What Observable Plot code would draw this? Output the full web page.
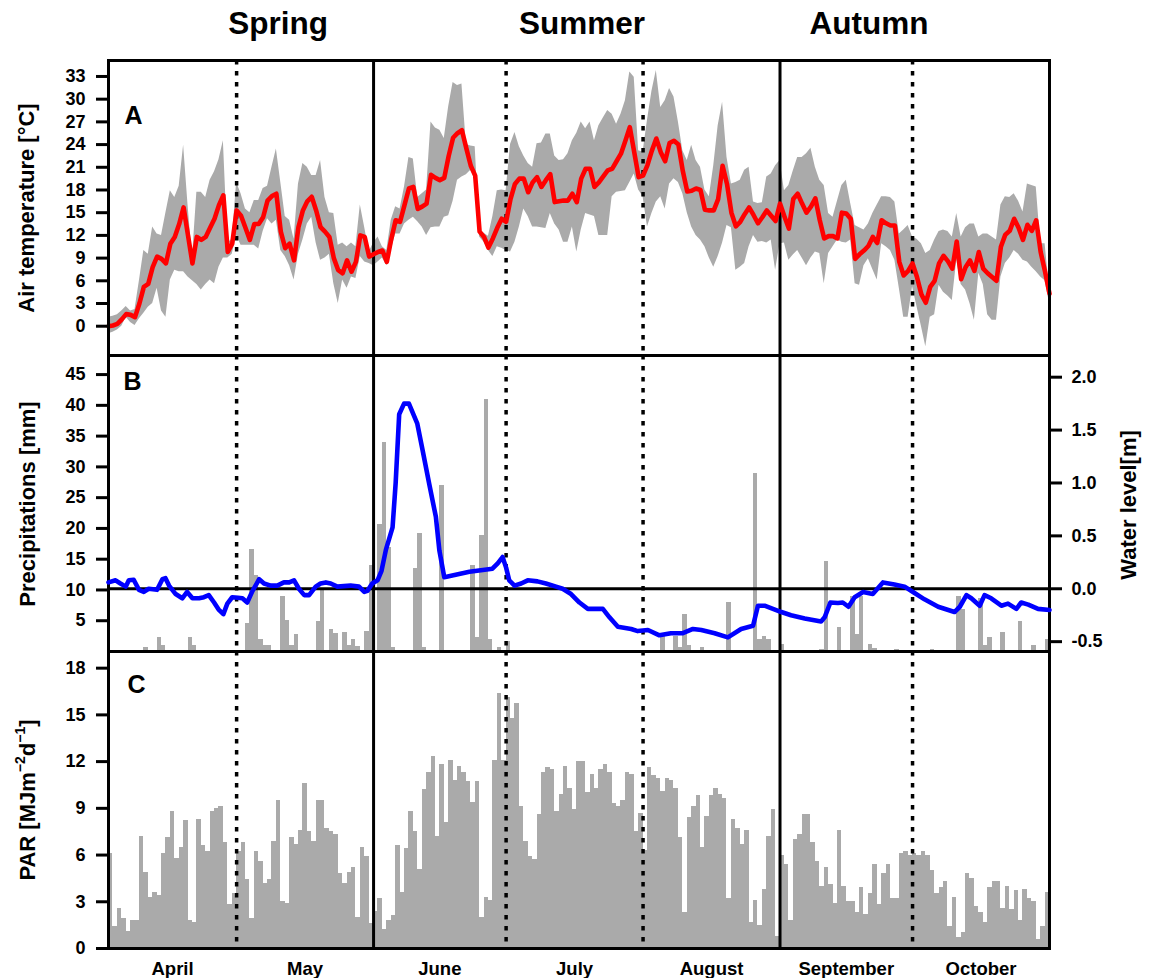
<!DOCTYPE html>
<html><head><meta charset="utf-8">
<script src="https://cdn.jsdelivr.net/npm/d3@7"></script>
<script src="https://cdn.jsdelivr.net/npm/@observablehq/plot@0.6"></script>
<style>
body{margin:0;background:#fff;}
#chart{position:relative;width:1154px;height:978px;font-family:"Liberation Sans",Arial,sans-serif;font-weight:bold;color:#000;overflow:hidden;}
#chart svg{position:absolute;left:0;top:0;}
.season{position:absolute;top:8px;font-size:31.5px;line-height:31.5px;transform:translateX(-50%);white-space:nowrap;}
.ylab{position:absolute;font-size:22px;line-height:22px;white-space:nowrap;transform:translate(-50%,-50%) rotate(-90deg);}
.ylab sup{font-size:14px;line-height:0;position:relative;top:-2px;vertical-align:super;}
</style></head><body><div id="chart"></div>
<script>
// ---------- DATA ----------
const seasonNames = ["Spring", "Summer", "Autumn"];
const monthNames = ["April", "May", "June", "July", "August", "September", "October"];
const monthEdges = [0, 29, 60, 90, 121, 152, 182, 213]; // day index of month starts
const seasonDividers = [60, 152];
const monthDividers = [29, 90, 121, 182];

const tempTicks = [0, 3, 6, 9, 12, 15, 18, 21, 24, 27, 30, 33];
const precipTicks = [5, 10, 15, 20, 25, 30, 35, 40, 45];
const waterTicks = [-0.5, 0.0, 0.5, 1.0, 1.5, 2.0];
const parTicks = [0, 3, 6, 9, 12, 15, 18];

// daily air temperature (°C): mean, min, max
const tempMean = [0.0,0.1,0.3,0.9,1.6,1.5,1.2,3.0,5.2,5.6,
 7.8,9.2,8.9,8.3,10.9,11.8,13.5,15.7,12.0,8.3,
 11.8,11.4,11.8,13.0,14.2,16.0,17.3,9.8,10.9,15.3,
 14.6,13.0,11.4,13.5,13.5,14.4,16.6,17.2,17.5,12.5,
 10.3,10.9,8.7,13.1,15.3,16.5,17.1,15.3,13.1,12.5,
 11.8,9.0,7.4,7.0,8.7,7.2,8.5,12.0,11.8,9.2,
 9.5,9.8,10.0,8.5,11.5,14.0,13.8,16.0,18.2,18.4,
 15.5,15.8,16.2,20.0,19.6,19.3,19.6,22.5,24.9,25.5,
 25.9,23.5,21.2,19.9,12.5,11.8,10.4,11.6,13.0,14.2,
 13.8,16.8,18.8,19.5,19.5,17.7,19.0,19.7,18.4,19.3,
 20.1,16.4,16.5,16.6,16.6,17.5,16.4,19.5,20.8,20.8,
 18.4,19.0,19.8,20.6,20.8,21.8,22.8,24.5,26.3,23.0,
 19.7,19.9,21.3,23.2,24.8,23.0,21.8,24.2,24.5,24.0,
 20.5,17.8,17.9,18.2,18.0,15.4,15.3,15.3,16.8,21.2,
 18.8,15.0,13.2,13.8,14.8,15.7,14.7,13.6,14.4,15.3,
 14.6,13.9,16.2,14.5,12.9,16.8,17.5,16.2,15.0,15.8,
 16.9,14.0,11.6,11.9,11.9,11.6,15.0,14.9,14.2,8.9,
 9.5,10.0,10.6,11.8,11.0,14.0,13.6,13.3,13.3,8.5,
 6.7,7.3,8.3,6.5,4.2,3.1,5.2,6.0,8.3,9.3,
 8.6,7.6,11.2,6.2,7.8,8.7,7.3,9.8,7.6,7.0,
 6.5,6.0,10.5,12.1,12.6,14.2,13.0,11.4,13.4,12.6,
 14.0,9.8,7.2,4.3];
const tempMax = [1.2,1.3,1.5,2.0,2.6,2.0,2.2,6.0,10.0,9.5,
 13.1,12.2,12.0,15.0,17.9,17.0,18.5,23.9,16.0,9.0,
 17.7,17.7,17.0,19.3,20.4,22.0,24.5,11.0,11.5,19.0,
 17.5,15.5,15.0,16.6,16.6,18.2,18.5,21.0,23.4,19.0,
 14.5,14.0,11.5,18.8,21.5,21.0,19.9,19.9,21.9,17.0,
 15.0,14.9,10.7,11.0,10.5,11.0,10.5,16.0,13.0,9.8,
 11.0,11.8,10.5,10.0,14.0,15.8,15.5,18.4,22.3,22.1,
 17.0,17.5,18.0,27.0,26.2,25.9,24.8,29.0,32.2,31.8,
 32.0,24.0,23.8,23.7,12.7,12.3,11.9,14.5,17.9,18.0,
 17.9,24.0,25.6,23.7,22.5,21.5,21.0,24.1,24.2,25.4,
 25.4,22.5,21.9,22.0,22.8,24.5,25.5,27.0,26.1,27.0,
 24.5,26.5,27.5,28.5,28.0,26.7,28.0,29.8,33.6,32.9,
 23.2,23.0,27.2,31.0,33.8,28.9,29.8,31.4,30.3,27.0,
 23.2,21.9,23.9,21.9,21.0,18.0,17.1,21.2,26.5,29.6,
 22.3,18.8,19.0,19.3,20.6,21.0,16.4,16.2,16.3,19.7,
 20.1,21.2,21.9,17.9,18.6,20.5,22.3,22.3,22.8,23.5,
 21.0,19.3,18.6,14.9,14.4,16.5,18.6,19.3,16.2,13.3,
 13.0,12.7,13.5,14.9,16.0,17.1,17.1,17.0,16.4,12.2,
 12.7,13.3,11.8,11.5,10.9,9.6,10.0,11.4,12.5,12.7,
 12.5,11.8,14.9,11.8,13.0,13.5,13.5,11.8,12.2,12.2,
 11.8,11.4,16.0,17.1,17.0,17.5,16.5,15.1,18.8,18.6,
 18.4,10.9,10.9,5.0];
const tempMin = [-1.0,-0.8,-0.5,0.0,1.2,0.5,0.1,1.0,1.7,2.5,
 3.0,5.0,2.0,1.2,6.1,7.4,7.2,7.2,6.5,6.0,
 5.5,4.8,5.5,6.1,5.6,7.8,9.0,9.0,9.5,12.0,
 10.7,10.7,10.7,10.7,10.2,12.5,14.2,13.5,14.0,10.0,
 9.2,8.0,6.1,9.5,11.4,13.5,14.4,11.0,8.7,9.0,
 9.5,5.6,3.0,6.1,5.0,6.5,6.3,9.2,8.5,8.3,
 8.0,8.5,9.0,8.0,10.0,12.2,12.2,13.5,14.0,14.4,
 13.8,13.1,12.0,13.0,13.1,13.1,14.4,14.6,16.5,19.3,
 19.7,20.0,20.6,19.5,11.8,11.1,10.0,9.2,10.5,10.3,
 10.0,9.8,11.1,13.1,15.5,14.5,13.1,13.1,13.0,12.9,
 14.9,13.5,12.7,11.1,11.1,13.1,9.8,12.7,14.9,14.7,
 14.5,12.0,12.0,12.0,17.1,17.7,17.8,17.9,19.0,20.1,
 18.0,17.1,13.1,14.9,16.4,17.1,15.5,18.8,19.5,19.0,
 17.5,15.0,13.1,12.0,11.4,10.5,9.0,7.8,9.2,11.0,
 13.3,13.0,7.4,7.8,8.3,10.5,12.0,11.1,11.2,11.0,
 11.4,7.4,10.9,11.0,8.7,9.4,10.0,9.0,8.0,9.0,
 9.8,9.6,5.6,9.6,10.5,11.4,11.1,11.0,11.4,5.6,
 5.4,8.0,8.9,7.5,6.1,10.9,10.5,10.0,8.7,5.0,
 1.2,1.2,5.2,2.6,0.0,-2.7,1.2,1.5,5.4,4.5,
 4.0,3.4,8.7,5.5,4.8,3.0,0.8,7.0,5.5,1.5,
 0.8,0.8,6.5,8.3,9.0,10.0,9.5,8.7,8.5,7.8,
 7.2,6.5,6.0,3.0];

// daily precipitation (mm)
const precipitation = [0,0,0,0,0,0,0,0,0.6,0,
 0,2.2,1.0,0,0,0,0,0,2.2,1.0,
 0,0,0,0,0,0,0,0,0,0,
 0,4.5,16.6,12.3,2.0,1.0,1.0,0,0,8.9,
 5.0,1.0,2.7,0,0,0,0,4.8,10.1,0,
 3.5,3.0,0,3.1,1.0,1.9,0.8,0,3.2,14.0,
 0,20.7,33.9,16.9,0.6,0,0,0,0,13.5,
 19.1,0.6,0,0,0,26.9,0,0,0,0,
 0,0,14.0,2.3,18.9,41.0,1.9,0,0.6,0,
 1.6,0,0,0,0,0,0,0,0,0,
 0,0,0,0,0,0,0,0,0,0,
 0,0,0,0,0,0,0,0,0,0,
 0,0,0,0,0,2.4,0,0,2.4,0.6,
 6.0,1.0,0,0,0.6,0,0,0,0,0,
 8.0,0,0,0,0,0,29.0,2.0,2.4,1.9,
 0,0,1.2,0,0,0,0,0,0,0,
 0,0.4,14.7,0,0,3.9,0,0,8.9,2.8,
 8.9,0,1.2,0.5,0,0,0,0,0.4,0,
 0,0,0,0,0,0,0.4,0,0,0,
 0,0,9.0,6.8,0,0,0,8.6,1.0,2.3,
 0,0,3.1,0,0,0,4.8,0,0,1.0,
 0,0,2.0];

// water level (m): [day, level]
const waterLevel = [[0,0.06],[1.6,0.08],[2.7,0.05],[3.9,0.02],[4.6,0.08],[5.7,0.085],[6.9,-0.01],[8,-0.03],[9.1,0],[11,-0.01],
 [12.2,0.09],[12.9,0.10],[13.7,0.03],[15.2,-0.05],[16.7,-0.09],[17.8,-0.03],[19,-0.09],[20.5,-0.09],[21.6,-0.08],[22.7,-0.06],
 [23.9,-0.13],[25,-0.2],[26,-0.24],[26.9,-0.14],[28,-0.08],[29.3,-0.085],[30.3,-0.09],[31.4,-0.13],[32.6,-0.02],[34.1,0.09],
 [35.2,0.05],[36.7,0.03],[38.2,0.03],[39.7,0.06],[40.9,0.06],[42,0.08],[43.1,0],[44.3,-0.06],[45.4,-0.06],[46.9,0.02],
 [48,0.05],[49.2,0.06],[50.3,0.05],[51.8,0.02],[53.3,0.025],[54.8,0.03],[56.7,0.02],[57.9,-0.03],[58.6,-0.02],[59.7,0.05],
 [60.9,0.08],[61.8,0.17],[62.8,0.37],[64.3,0.58],[65,1.0],[65.8,1.65],[66.9,1.75],[68,1.75],[69.9,1.56],[71.1,1.31],
 [72.6,0.99],[74.1,0.68],[74.9,0.36],[76,0.11],[81.7,0.16],[86.9,0.19],[88.1,0.24],[89.2,0.3],[90,0.2],[90.7,0.08],
 [91.9,0.03],[93.4,0.05],[94.9,0.08],[97.1,0.07],[99,0.05],[101.3,0.02],[102.8,0],[104.7,-0.05],[106.6,-0.13],[108.5,-0.19],
 [111.9,-0.19],[113.4,-0.27],[115.3,-0.36],[118.3,-0.38],[119.8,-0.4],[122.1,-0.39],[124.7,-0.44],[127.3,-0.42],[130,-0.42],[132.3,-0.38],
 [134.2,-0.39],[137.2,-0.42],[140.2,-0.46],[143.2,-0.38],[145.9,-0.35],[147,-0.16],[148.5,-0.16],[150.4,-0.19],[152.3,-0.22],[154.5,-0.25],
 [157.6,-0.28],[161.3,-0.31],[162.1,-0.27],[163.4,-0.13],[165.1,-0.135],[166.2,-0.13],[167.5,-0.17],[168.9,-0.08],[170.8,-0.03],[173,-0.05],
 [175.3,0.06],[177.9,0.04],[180.2,0.02],[182.1,-0.03],[184.7,-0.1],[187.8,-0.17],[191.5,-0.22],[192.7,-0.17],[194.2,-0.06],[195.3,-0.09],
 [197.2,-0.16],[198.3,-0.06],[199.8,-0.09],[202.1,-0.16],[203.6,-0.14],[205.5,-0.19],[206.6,-0.13],[208.2,-0.15],[210.4,-0.19],[213,-0.2]];

// daily PAR (MJ m-2 d-1)
const par = [6.1,1.4,2.6,1.9,1.1,1.8,1.8,7.2,4.9,3.3,3.6,3.4,6.1,7.1,8.8,5.8,6.5,8.2,1.8,1.7,8.3,6.6,6.2,8.8,9.0,9.1,6.8,2.8,3.5,
 6.2,6.8,4.4,1.9,6.2,5.6,4.2,4.4,6.9,9.5,3.0,2.9,7.1,6.7,7.6,10.6,7.5,6.9,9.5,9.5,7.7,7.5,7.3,4.8,4.2,4.9,5.2,2.0,6.5,5.9,1.6,
 2.4,
 3.2,1.2,1.8,2.1,6.6,3.6,6.4,8.8,7.5,5.1, 10.2,11.3,12.3,7.2,11.8,8.1,12.1,10.8,11.7,11.3,
 10.7,9.4,10.7,2.0,3.3,3.1,12.1,16.4,12.1,16.1, 14.8,15.7,9.1,6.9,5.9,5.7,8.6,11.3,11.6,11.5,
 8.8,9.9,11.7,10.3,8.9,12.0,12.0,10.0,11.2,10.3, 11.5,11.8,11.3,9.3,9.1,9.5,11.3,11.2,7.5,8.7,
 6.3,11.6,11.1,10.9,10.1,10.9,10.8,10.3,7.1,2.3, 8.4,9.1,9.8,6.5,8.5,9.8,10.3,9.9,9.6,3.2,
 8.3,7.7,6.7,7.6,1.7,3.1,1.5,3.8,7.2,8.9,
 0.8,
 6.0,5.4,1.8,7.0,7.3,8.6,8.6,6.8,5.6,4.0, 5.2,4.1,2.9,7.6,4.0,3.0,3.0,2.3,3.9,2.2,
 3.5,5.4,2.8,4.8,5.4,3.2,3.2,6.1,6.2,6.0, 6.1,6.0,6.2,6.0,5.0,3.5,3.9,4.3,1.4,3.3,
 0.7,1.0,4.8,4.5,2.7,2.3,1.7,3.9,4.3,4.3, 2.6,4.0,2.5,3.7,1.8,3.8,3.2,3.0,0.6,1.4,
 3.6];

// ---------- CHART ----------
const W = 1154, H = 978;
const GREY = "#aaaaaa";
const base = {
  width: W, height: H, marginLeft: 108, marginRight: 105,
  x: {domain: [0, 213], axis: null},
  style: {background: "transparent", fontFamily: "'Liberation Sans', Arial, sans-serif",
          fontSize: "18px", fontWeight: "bold", color: "black", overflow: "visible"}
};
const dividerMarks = () => [
  Plot.ruleX(monthDividers, {x: d => d, stroke: "black", strokeWidth: 3.5, strokeDasharray: "4.5,6.5"}),
  Plot.ruleX(seasonDividers, {x: d => d, stroke: "black", strokeWidth: 3})
];
const dayIdx = tempMean.map((_, i) => i);
const chart = document.getElementById("chart");

// Panel A
const plotA = Plot.plot({
  ...base, marginTop: 60, marginBottom: H - 355,
  y: {domain: [-3.87, 35.11]},
  marks: [
    Plot.areaY(dayIdx, {x: d => d, y1: d => tempMin[d], y2: d => tempMax[d], fill: GREY}),
    ...dividerMarks(),
    Plot.line(dayIdx, {x: d => d, y: d => tempMean[d], stroke: "#ff0000", strokeWidth: 4.6}),
    Plot.frame({stroke: "black", strokeWidth: 3}),
    Plot.axisY({ticks: tempTicks, tickSize: 12, tickPadding: 11, strokeWidth: 3, label: null}),
    Plot.text(["A"], {text: d => d, frameAnchor: "top-left", dx: 16, dy: 46, lineAnchor: "top", textAnchor: "start", fontSize: 25, fontWeight: "bold"})
  ]
});
chart.appendChild(plotA);

// Panel B (precipitation)
const precipRows = precipitation.map((v, i) => ({day: i, v})).filter(d => d.v > 0);
const plotB = Plot.plot({
  ...base, marginTop: 355, marginBottom: H - 651,
  y: {domain: [0, 48.1]},
  marks: [
    Plot.rect(precipRows, {x1: d => d.day, x2: d => d.day + 1, y1: 0, y2: d => d.v, fill: GREY, inset: 0, shapeRendering: "crispEdges"}),
    ...dividerMarks(),
    Plot.frame({stroke: "black", strokeWidth: 3}),
    Plot.axisY({ticks: precipTicks, tickSize: 12, tickPadding: 11, strokeWidth: 3, label: null}),
    Plot.text(["B"], {text: d => d, frameAnchor: "top-left", dx: 15, dy: 17, lineAnchor: "top", textAnchor: "start", fontSize: 25, fontWeight: "bold"})
  ]
});
chart.appendChild(plotB);

// Panel B overlay (water level, right axis)
const plotW = Plot.plot({
  ...base, marginTop: 355, marginBottom: H - 651,
  y: {domain: [-0.593, 2.205]},
  marks: [
    Plot.ruleY([0], {stroke: "black", strokeWidth: 3}),
    Plot.line(waterLevel, {x: d => d[0], y: d => d[1], stroke: "#0000ff", strokeWidth: 4.6}),
    Plot.axisY({anchor: "right", ticks: waterTicks, tickFormat: d => d.toFixed(1), tickSize: 12, tickPadding: 10, strokeWidth: 3, label: null})
  ]
});
chart.appendChild(plotW);

// Panel C (PAR)
const parRows = par.map((v, i) => ({day: i, v}));
const monthCenters = monthNames.map((_, i) => (monthEdges[i] + monthEdges[i + 1]) / 2);
const plotC = Plot.plot({
  ...base, marginTop: 651, marginBottom: H - 948,
  y: {domain: [0, 19.07]},
  marks: [
    Plot.rect(parRows, {x1: d => d.day, x2: d => d.day + 1, y1: 0, y2: d => d.v, fill: GREY, inset: 0, shapeRendering: "crispEdges"}),
    ...dividerMarks(),
    Plot.frame({stroke: "black", strokeWidth: 3}),
    Plot.axisY({ticks: parTicks, tickSize: 12, tickPadding: 11, strokeWidth: 3, label: null}),
    Plot.axisX({ticks: monthCenters, tickFormat: d => monthNames[monthCenters.indexOf(d)], tickSize: 0, tickPadding: 13.5, fontSize: 18.5, label: null}),
    Plot.text(["C"], {text: d => d, frameAnchor: "top-left", dx: 19, dy: 24, lineAnchor: "top", textAnchor: "start", fontSize: 25, fontWeight: "bold"})
  ]
});
chart.appendChild(plotC);

// Titles & axis labels (HTML text)
const seasonX = [278, 582, 869];
seasonNames.forEach((s, i) => {
  const d = document.createElement("div");
  d.className = "season"; d.style.left = seasonX[i] + "px"; d.textContent = s;
  chart.appendChild(d);
});
function ylab(html, x, y) {
  const d = document.createElement("div");
  d.className = "ylab"; d.style.left = x + "px"; d.style.top = y + "px"; d.innerHTML = html;
  chart.appendChild(d);
}
ylab("Air temperature [°C]", 27, 208);
ylab("Precipitations [mm]", 28, 504);
ylab("PAR [MJm<sup>−2</sup>d<sup>−1</sup>]", 28, 800);
ylab("Water level[m]", 1129, 505);
</script></body></html>
